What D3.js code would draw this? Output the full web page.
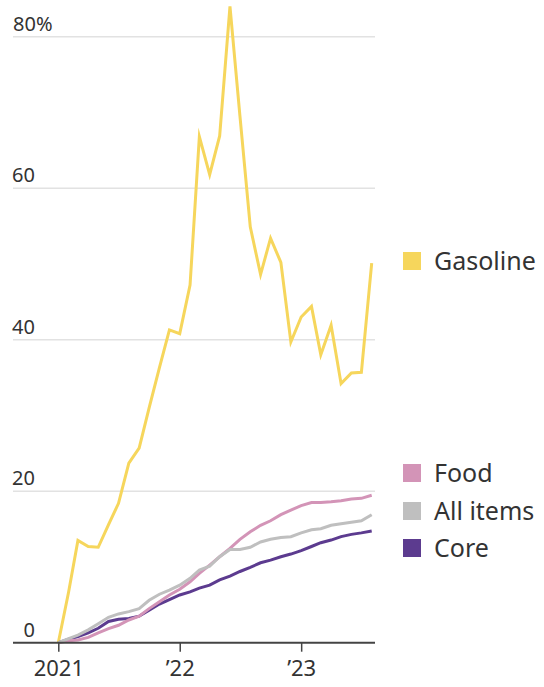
<!DOCTYPE html>
<html>
<head>
<meta charset="utf-8">
<script src="https://cdn.jsdelivr.net/npm/d3@7"></script>
<style>
  html, body { margin: 0; padding: 0; background: #fff; }
  svg text { font-family: "Noto Sans", "Open Sans", sans-serif; fill: #333; }
</style>
</head>
<body>
<svg id="chart" width="544" height="687"></svg>
<script>
// Months: Jan 2021 .. Aug 2023 (cumulative % change since Jan 2021)
const months = d3.range(32).map(i => new Date(2021, i, 1));

const gasoline = [0, 6.7, 13.5, 12.7, 12.6, 15.6, 18.4, 23.7, 25.7, 31.0, 36.3, 41.3,
  40.8, 47.2, 66.8, 61.8, 66.9, 84.0, 69.5, 54.9, 48.6, 53.4, 50.2, 39.7,
  43.0, 44.4, 38.0, 41.9, 34.2, 35.6, 35.7, 50.1];
const food = [0, 0.26, 0.35, 0.7, 1.3, 1.85, 2.3, 3.0, 3.5, 4.5, 5.4, 6.3,
  7.05, 8.05, 9.15, 10.25, 11.35, 12.45, 13.65, 14.65, 15.5, 16.1, 16.9, 17.5,
  18.1, 18.5, 18.5, 18.6, 18.75, 18.97, 19.06, 19.46];
const allItems = [0, 0.53, 1.0, 1.7, 2.5, 3.35, 3.8, 4.1, 4.5, 5.6, 6.4, 6.95,
  7.6, 8.5, 9.6, 10.1, 11.35, 12.3, 12.3, 12.6, 13.3, 13.65, 13.9, 14.0,
  14.5, 14.9, 15.05, 15.5, 15.7, 15.9, 16.1, 16.9];
const core = [0, 0.45, 0.8, 1.3, 1.9, 2.8, 3.1, 3.2, 3.5, 4.3, 5.1, 5.7,
  6.3, 6.7, 7.2, 7.6, 8.3, 8.8, 9.4, 9.95, 10.55, 10.9, 11.35, 11.7,
  12.15, 12.7, 13.2, 13.55, 14.0, 14.3, 14.5, 14.75];

const yTicks = [0, 20, 40, 60, 80];
const yTickLabels = ["0", "20", "40", "60", "80%"];
const xTickDates = [new Date(2021, 0, 1), new Date(2022, 0, 1), new Date(2023, 0, 1)];
const xTickLabels = ["2021", "\u201922", "\u201923"];

const seriesNames = ["Gasoline", "Food", "All items", "Core"];
const seriesColors = ["#f6d65c", "#d394b7", "#bfbfbf", "#5c3b8f"];
const seriesValues = [gasoline, food, allItems, core];

const svg = d3.select("#chart");

const x = d3.scaleTime()
  .domain([months[0], months[months.length - 1]])
  .range([58.3, 371.7]);
const y = d3.scaleLinear().domain([0, 80]).range([642.7, 36.7]);

const gridLeft = 13, gridRight = 375;

// gridlines
svg.append("g").selectAll("line")
  .data(yTicks.filter(d => d > 0))
  .join("line")
  .attr("x1", gridLeft).attr("x2", gridRight)
  .attr("y1", d => y(d)).attr("y2", d => y(d))
  .attr("stroke", "#e2e2e2").attr("stroke-width", 1.5);

// y labels
svg.append("g").selectAll("text")
  .data(yTicks)
  .join("text")
  .attr("x", (d, i) => yTickLabels[i].includes("%") ? gridLeft : 35)
  .attr("text-anchor", (d, i) => yTickLabels[i].includes("%") ? "start" : "end")
  .attr("y", d => y(d) - 6)
  .attr("font-size", 20)
  .text((d, i) => yTickLabels[i]);

// lines
const line = vals => d3.line()
  .x((d, i) => x(months[i]))
  .y(d => y(d))(vals);

const drawOrder = [0, 3, 1, 2];
svg.append("g").selectAll("path")
  .data(drawOrder)
  .join("path")
  .attr("d", k => line(seriesValues[k]))
  .attr("fill", "none")
  .attr("stroke", k => seriesColors[k])
  .attr("stroke-width", 3)
  .attr("stroke-linejoin", "miter")
  .attr("stroke-miterlimit", 10);

// x axis
const xAxis = d3.axisBottom(x)
  .tickValues(xTickDates)
  .tickFormat((d, i) => xTickLabels[i])
  .tickSize(9)
  .tickPadding(9);
const gx = svg.append("g").attr("transform", `translate(0,${y(0)})`).call(xAxis);
gx.select(".domain").remove();
gx.selectAll(".tick line").attr("stroke", "#444").attr("stroke-width", 1.5);
gx.selectAll(".tick text").attr("font-size", 22).attr("fill", "#333")
  .attr("font-family", "Noto Sans, Open Sans, sans-serif");
svg.append("line")
  .attr("x1", gridLeft).attr("x2", gridRight)
  .attr("y1", y(0)).attr("y2", y(0))
  .attr("stroke", "#444").attr("stroke-width", 2);

// legend
const legendY = [261, 473, 511, 548];
const lg = svg.append("g").selectAll("g")
  .data(seriesNames)
  .join("g")
  .attr("transform", (d, i) => `translate(403,${legendY[i]})`);
lg.append("rect")
  .attr("x", 0).attr("y", -9).attr("width", 18).attr("height", 18)
  .attr("fill", (d, i) => seriesColors[i]);
lg.append("text")
  .attr("x", 31).attr("y", 0).attr("dy", "0.36em")
  .attr("font-size", 25)
  .text(d => d);
</script>
</body>
</html>
